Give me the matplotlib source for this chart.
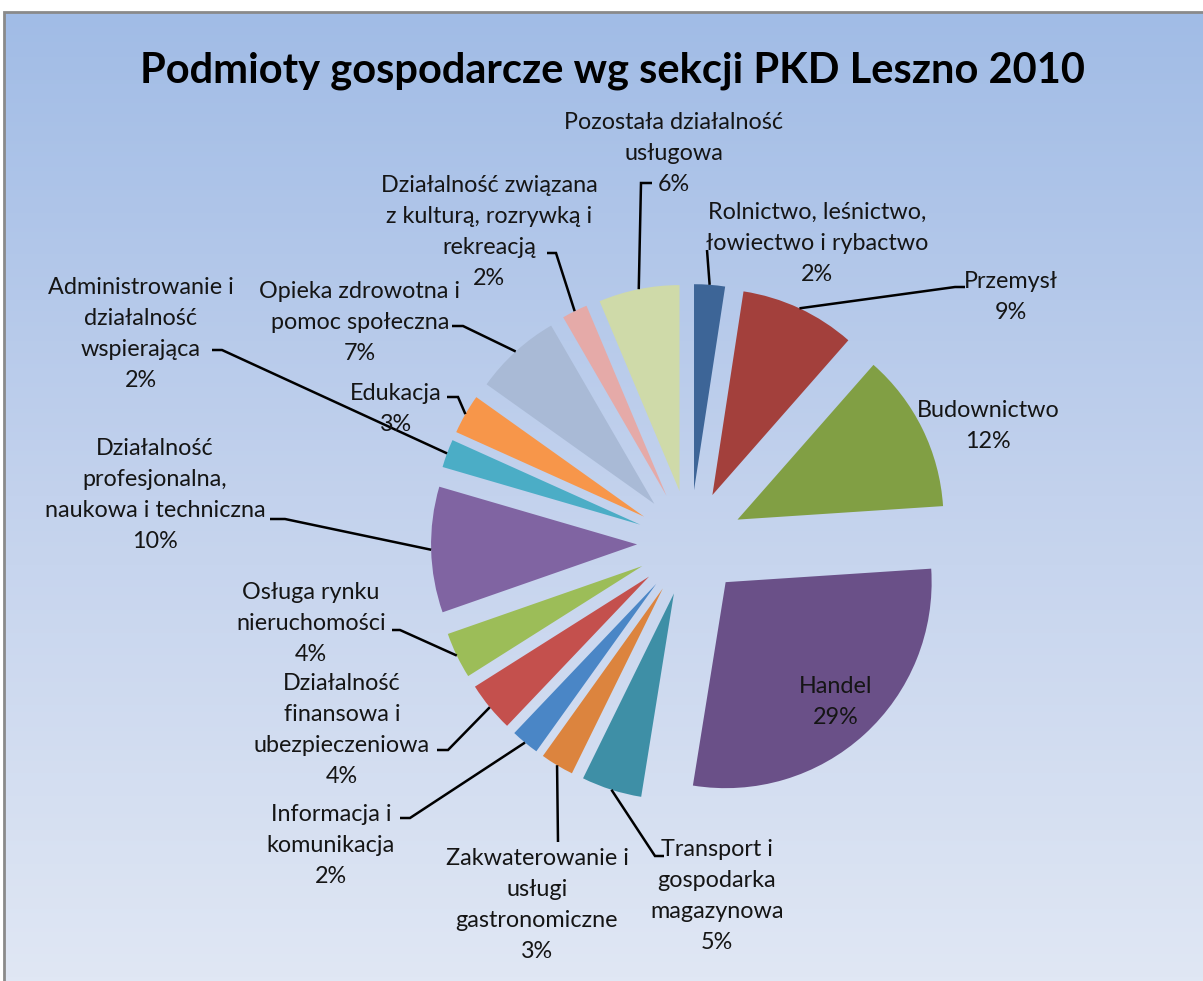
import matplotlib
matplotlib.use("Agg")
import matplotlib.pyplot as plt
import numpy as np
from matplotlib.colors import LinearSegmentedColormap
from matplotlib.patches import Rectangle

# slice values (share of entities), clockwise from 12 o'clock
sections = [
    "Rolnictwo, leśnictwo,\nłowiectwo i rybactwo",
    "Przemysł",
    "Budownictwo",
    "Handel",
    "Transport i\ngospodarka\nmagazynowa",
    "Zakwaterowanie i\nusługi\ngastronomiczne",
    "Informacja i\nkomunikacja",
    "Działalność\nfinansowa i\nubezpieczeniowa",
    "Osługa rynku\nnieruchomości",
    "Działalność\nprofesjonalna,\nnaukowa i techniczna",
    "Administrowanie i\ndziałalność\nwspierająca",
    "Edukacja",
    "Opieka zdrowotna i\npomoc społeczna",
    "Działalność związana\nz kulturą, rozrywką i\nrekreacją",
    "Pozostała działalność\nusługowa",
]
shares = [2.4, 9.0, 12.4, 28.4, 4.7, 2.6, 2.2, 3.9, 3.6, 9.8, 2.2, 3.1, 6.75, 2.0, 6.3]
pct_labels = ["2%", "9%", "12%", "29%", "5%", "3%", "2%", "4%", "4%", "10%",
              "2%", "3%", "7%", "2%", "6%"]
colors = ["#3d6597", "#a3403c", "#819f44", "#6a5088", "#3e8fa6", "#dc843e",
          "#4a86c6", "#c4504d", "#9cbd58", "#8064a2", "#4badc6", "#f7964a",
          "#a9bad6", "#e5aaa8", "#cfdaa9"]

W, H = 1203, 981
CX, CY, R = 690, 543, 206   # pie centre / radius in pixels


def px(x, y):
    return (x - CX) / R, (CY - y) / R


# label layout in pixels: centre x, y of first line
label_pos = [(817, 212), (1011, 281), (988, 410), (836, 686), (717, 849),
             (537, 858), (331, 814), (342, 683), (311, 592), (155, 448),
             (141, 287), (396, 393), (360, 291), (489, 185), (674, 122)]
# leader waypoints near the text (pixels); the line then runs to the slice
leaders = [
    [(707, 250)],
    [(965, 287), (955, 287)],
    None,
    None,
    [(664, 856), (655, 856)],
    [(558, 842)],
    [(400, 818), (410, 818)],
    [(437, 750), (448, 750)],
    [(392, 630), (400, 630)],
    [(270, 519), (285, 519)],
    [(212, 350), (222, 350)],
    [(447, 397), (458, 397)],
    [(452, 326), (463, 326)],
    [(547, 253), (556, 253)],
    [(652, 183), (641, 183)],
]
LINE = 31

fig = plt.figure(figsize=(W / 100, H / 100), dpi=100)
fig.patch.set_facecolor("white")

# gradient chart area
bg = fig.add_axes([4 / W, 0, 1 - 4 / W, 1 - 12 / H])
grad = np.linspace(0, 1, 256).reshape(-1, 1)
cmap = LinearSegmentedColormap.from_list("bg", ["#a1bce6", "#c3d2ed", "#e0e7f4"])
bg.imshow(grad, aspect="auto", cmap=cmap, extent=[0, 1, 0, 1], origin="upper")
bg.set_axis_off()
fig.patches.append(Rectangle((3.5 / W, -0.1), 1.2, 1 - 12 / H + 0.1,
                             transform=fig.transFigure, fill=False,
                             edgecolor="#8a8a8a", linewidth=2, zorder=5))

ax = fig.add_axes([0, 0, 1, 1])
ax.patch.set_alpha(0)
wedges, _ = ax.pie(shares, colors=colors, explode=[0.257] * len(shares),
                   startangle=90, counterclock=False, radius=1,
                   wedgeprops=dict(linewidth=0))
ax.set_xlim((0 - CX) / R, (W - CX) / R)
ax.set_ylim((CY - H) / R, CY / R)
ax.set_aspect("auto")
ax.set_axis_off()

FONT = "Lato"
for w, name, pct, (lx, ly), lead in zip(wedges, sections, pct_labels, label_pos, leaders):
    lines = name.split("\n") + [pct]
    for i, t in enumerate(lines):
        x, y = px(lx, ly + i * LINE + 7)
        ax.text(x, y, t, ha="center", va="baseline", fontsize=16.8,
                family=FONT, color="#151515")
    if lead:
        mid = np.deg2rad((w.theta1 + w.theta2) / 2)
        ax0 = w.center[0] + w.r * np.cos(mid)
        ay0 = w.center[1] + w.r * np.sin(mid)
        pts = [px(a, b) for a, b in lead] + [(ax0, ay0)]
        ax.plot([p[0] for p in pts], [p[1] for p in pts], color="black",
                lw=1.8, solid_capstyle="butt", solid_joinstyle="miter")

tx, ty = px(612, 82)
ax.text(tx, ty, "Podmioty gospodarcze wg sekcji PKD Leszno 2010", ha="center",
        va="baseline", fontsize=30, fontweight="bold", family=FONT, color="black")

fig.savefig("out.png", dpi=100)
